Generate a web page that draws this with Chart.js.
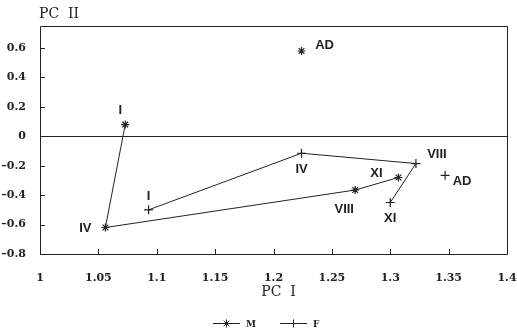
<!DOCTYPE html>
<html>
<head>
<meta charset="utf-8">
<script src="https://cdn.jsdelivr.net/npm/chart.js@4.4.1/dist/chart.umd.min.js"></script>
<style>
  html, body { margin: 0; padding: 0; background: #fff; }
  #wrap { width: 517px; height: 333px; position: relative; }
</style>
</head>
<body>
<div id="wrap"><canvas id="chart" width="517" height="333"></canvas></div>
<script>
// Datos
const meses = ['I', 'IV', 'VIII', 'XI'];
const machoX = [1.073, 1.056, 1.270, 1.307];
const machoY = [0.08, -0.62, -0.365, -0.28];
const hembraX = [1.093, 1.224, 1.322, 1.300];
const hembraY = [-0.50, -0.115, -0.185, -0.45];
const adultoEtiqueta = 'AD';
const machoAdX = [1.224];
const machoAdY = [0.58];
const hembraAdX = [1.347];
const hembraAdY = [-0.265];
const xTicks = [1, 1.05, 1.1, 1.15, 1.2, 1.25, 1.3, 1.35, 1.4];
const yTicks = [-0.8, -0.6, -0.4, -0.2, 0, 0.2, 0.4, 0.6];
const serieNombres = ['M', 'F'];

// Desplazamientos (px) de las etiquetas respecto al punto
const offM = [[-5, -14], [-20, 1], [-11, 19], [-22, -4]];
const offF = [[0, -13], [0, 16], [21, -9], [0, 16]];
const offMAd = [23, -6];
const offFAd = [17, 6];

const INK = '#222';
const toPts = (xs, ys) => xs.map((x, i) => ({ x, y: ys[i] }));

/**
 * Marco, línea del cero, marcas interiores, títulos, etiquetas y leyenda.
 */
const decoracion = {
  id: 'decoracion',
  afterDatasetsDraw(chart) {
    const { ctx, chartArea: a, scales: { x, y } } = chart;
    ctx.save();
    ctx.strokeStyle = INK;
    ctx.lineWidth = 1;
    ctx.beginPath();
    ctx.rect(a.left + 0.5, a.top + 0.5, a.right - a.left, a.bottom - a.top);
    const y0 = Math.round(y.getPixelForValue(0)) + 0.5;
    ctx.moveTo(a.left, y0);
    ctx.lineTo(a.right, y0);
    xTicks.forEach(v => {
      const px = Math.round(x.getPixelForValue(v)) + 0.5;
      ctx.moveTo(px, a.bottom);
      ctx.lineTo(px, a.bottom - 5);
    });
    yTicks.forEach(v => {
      const py = Math.round(y.getPixelForValue(v)) + 0.5;
      ctx.moveTo(a.left, py);
      ctx.lineTo(a.left + 5, py);
    });
    ctx.stroke();

    // títulos de ejes
    ctx.fillStyle = INK;
    ctx.font = '14px "DejaVu Serif"';
    ctx.textBaseline = 'middle';
    ctx.textAlign = 'left';
    ctx.fillText('PC  II', a.left - 1, 14);
    ctx.textAlign = 'center';
    ctx.fillText('PC  I', (a.left + a.right) / 2 + 5, 292);

    // etiquetas de puntos
    ctx.font = 'bold 13px "Liberation Sans"';
    const etiquetar = (xs, ys, offs) => {
      xs.forEach((v, i) => {
        ctx.fillText(meses[i], x.getPixelForValue(v) + offs[i][0], y.getPixelForValue(ys[i]) + offs[i][1]);
      });
    };
    etiquetar(machoX, machoY, offM);
    etiquetar(hembraX, hembraY, offF);
    ctx.fillText(adultoEtiqueta, x.getPixelForValue(machoAdX[0]) + offMAd[0], y.getPixelForValue(machoAdY[0]) + offMAd[1]);
    ctx.fillText(adultoEtiqueta, x.getPixelForValue(hembraAdX[0]) + offFAd[0], y.getPixelForValue(hembraAdY[0]) + offFAd[1]);

    // leyenda
    const ly = 323.5;
    const items = [{ x0: 213, estilo: 'star' }, { x0: 280, estilo: 'cross' }];
    ctx.font = 'bold 9px "DejaVu Serif"';
    ctx.textAlign = 'left';
    items.forEach((it, i) => {
      ctx.beginPath();
      ctx.moveTo(it.x0, ly);
      ctx.lineTo(it.x0 + 27, ly);
      ctx.stroke();
      Chart.helpers.drawPoint(ctx, { pointStyle: it.estilo, radius: 4, borderWidth: 1 }, it.x0 + 13.5, ly);
      ctx.fillText(serieNombres[i], it.x0 + 33, ly + 1);
    });
    ctx.restore();
  }
};

const base = {
  borderColor: INK,
  backgroundColor: INK,
  borderWidth: 1,
  pointBorderWidth: 1.2,
  pointRadius: 4,
  pointHoverRadius: 4,
  showLine: true,
  tension: 0,
};

new Chart(document.getElementById('chart').getContext('2d'), {
  type: 'scatter',
  data: {
    datasets: [
      { ...base, label: 'M', data: toPts(machoX, machoY), pointStyle: 'star' },
      { ...base, label: 'F', data: toPts(hembraX, hembraY), pointStyle: 'cross', pointRadius: 4.5 },
      { ...base, label: 'M AD', data: toPts(machoAdX, machoAdY), pointStyle: 'star', showLine: false },
      { ...base, label: 'F AD', data: toPts(hembraAdX, hembraAdY), pointStyle: 'cross', pointRadius: 4.5, showLine: false },
    ],
  },
  options: {
    responsive: false,
    animation: false,
    layout: { padding: { top: 26, right: 0, left: 0, bottom: 0 } },
    plugins: { legend: { display: false }, tooltip: { enabled: false } },
    scales: {
      x: {
        type: 'linear',
        min: 1,
        max: 1.4,
        afterBuildTicks: s => { s.ticks = xTicks.map(v => ({ value: v })); },
        afterFit: s => { s.height = 79; s.paddingRight = 10; },
        grid: { display: false },
        border: { display: false },
        ticks: {
          color: INK,
          font: { family: '"DejaVu Serif"', size: 11, weight: 'bold' },
          padding: 10,
          maxRotation: 0,
          callback: v => String(Math.round(v * 100) / 100),
        },
      },
      y: {
        type: 'linear',
        min: -0.8,
        max: 0.75,
        afterBuildTicks: s => { s.ticks = yTicks.map(v => ({ value: v })); },
        afterFit: s => { s.width = 40; },
        grid: { display: false },
        border: { display: false },
        ticks: {
          color: INK,
          font: { family: '"DejaVu Serif"', size: 11, weight: 'bold' },
          padding: 6,
          callback: v => (v < 0 ? '\u2013' : '') + String(Math.abs(Math.round(v * 10) / 10)),
        },
      },
    },
  },
  plugins: [decoracion],
});
</script>
</body>
</html>
